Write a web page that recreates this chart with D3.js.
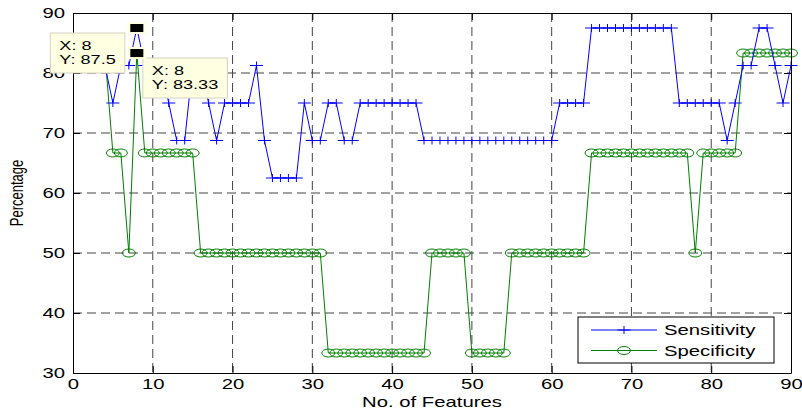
<!DOCTYPE html>
<html>
<head>
<meta charset="utf-8">
<script src="https://cdn.jsdelivr.net/npm/d3@7"></script>
<style>
  body { margin: 0; background: #fff; }
  text { font-family: "Liberation Sans", Arial, sans-serif; fill: #000; }
</style>
</head>
<body>
<div id="chart"></div>
<script>
// No. of features (x)
const features = d3.range(4, 91);

const sensitivity = [
  81.25, 75, 81.25, 81.25, 87.5, 81.25, 81.25, 81.25, 75, 68.75,      // 4-13
  68.75, 81.25, 81.25, 75, 68.75, 75, 75, 75, 75, 81.25,              // 14-23
  68.75, 62.5, 62.5, 62.5, 62.5, 75, 68.75, 68.75, 75, 75,            // 24-33
  68.75, 68.75, 75, 75, 75, 75, 75, 75, 75, 75,                       // 34-43
  68.75, 68.75, 68.75, 68.75, 68.75, 68.75, 68.75, 68.75, 68.75, 68.75, // 44-53
  68.75, 68.75, 68.75, 68.75, 68.75, 68.75, 68.75, 75, 75, 75,        // 54-63
  75, 87.5, 87.5, 87.5, 87.5, 87.5, 87.5, 87.5, 87.5, 87.5,           // 64-73
  87.5, 87.5, 75, 75, 75, 75, 75, 75, 68.75, 75,                      // 74-83
  81.25, 81.25, 87.5, 87.5, 81.25, 75, 81.25                          // 84-90
];

const specificity = [
  83.33, 66.67, 66.67, 50, 83.33, 66.67, 66.67, 66.67, 66.67, 66.67,  // 4-13
  66.67, 66.67, 50, 50, 50, 50, 50, 50, 50, 50,                       // 14-23
  50, 50, 50, 50, 50, 50, 50, 50, 33.33, 33.33,                       // 24-33
  33.33, 33.33, 33.33, 33.33, 33.33, 33.33, 33.33, 33.33, 33.33, 33.33, // 34-43
  33.33, 50, 50, 50, 50, 50, 33.33, 33.33, 33.33, 33.33,              // 44-53
  33.33, 50, 50, 50, 50, 50, 50, 50, 50, 50,                          // 54-63
  50, 66.67, 66.67, 66.67, 66.67, 66.67, 66.67, 66.67, 66.67, 66.67,  // 64-73
  66.67, 66.67, 66.67, 66.67, 50, 66.67, 66.67, 66.67, 66.67, 66.67,  // 74-83
  83.33, 83.33, 83.33, 83.33, 83.33, 83.33, 83.33                     // 84-90
];

const xTicks = [0, 10, 20, 30, 40, 50, 60, 70, 80, 90];
const yTicks = [30, 40, 50, 60, 70, 80, 90];

// data tips shown in the figure
const tips = [
  { x: 8, y: 87.5, lines: ["X: 8", "Y: 87.5"], side: "left" },
  { x: 8, y: 83.33, lines: ["X: 8", "Y: 83.33"], side: "right" }
];

const W = 802, H = 413;
const margin = { top: 13, right: 11, bottom: 40, left: 73 },
      width = W - margin.left - margin.right,
      height = H - margin.top - margin.bottom;
const SX = 1.45; // horizontal stretch of the original picture

const svg = d3.select("#chart")
    .append("svg")
    .attr("width", W)
    .attr("height", H);

const g = svg.append("g")
    .attr("transform", `translate(${margin.left},${margin.top})`);

const x = d3.scaleLinear().domain([0, 90]).range([0, width]);
const y = d3.scaleLinear().domain([30, 90]).range([height, 0]);

// Grid
g.append("g").selectAll("line")
    .data(xTicks.slice(1, -1))
    .enter().append("line")
    .attr("x1", d => x(d)).attr("x2", d => x(d))
    .attr("y1", 0).attr("y2", height)
    .attr("stroke", "#444")
    .attr("stroke-dasharray", "9,5");

g.append("g").selectAll("line")
    .data(yTicks.slice(1, -1))
    .enter().append("line")
    .attr("y1", d => y(d)).attr("y2", d => y(d))
    .attr("x1", 0).attr("x2", width)
    .attr("stroke", "#444")
    .attr("stroke-dasharray", "9,5");

// Series
const sens = features.map((f, i) => ({ x: f, y: sensitivity[i] }));
const spec = features.map((f, i) => ({ x: f, y: specificity[i] }));

const line = d3.line().x(d => x(d.x)).y(d => y(d.y));

g.append("path")
    .datum(spec)
    .attr("fill", "none")
    .attr("stroke", "#008000")
    .attr("stroke-width", 1)
    .attr("d", line);

g.append("g").selectAll("ellipse")
    .data(spec)
    .enter().append("ellipse")
    .attr("cx", d => x(d.x))
    .attr("cy", d => y(d.y))
    .attr("rx", 6.5)
    .attr("ry", 4)
    .attr("fill", "none")
    .attr("stroke", "#008000");

g.append("path")
    .datum(sens)
    .attr("fill", "none")
    .attr("stroke", "#0000ff")
    .attr("stroke-width", 1)
    .attr("d", line);

const plus = "M-6.5,0H6.5M0,-4V4";
g.append("g").selectAll("path")
    .data(sens)
    .enter().append("path")
    .attr("transform", d => `translate(${x(d.x)},${y(d.y)})`)
    .attr("d", plus)
    .attr("stroke", "#0000ff")
    .attr("fill", "none");

// Axes (ticks inward, box around)
const xAxis = g.append("g")
    .attr("transform", `translate(0,${height})`)
    .call(d3.axisBottom(x).tickValues(xTicks).tickSize(-7).tickSizeOuter(0).tickPadding(6));
xAxis.selectAll("text")
    .style("font-size", "14px")
    .attr("transform", `scale(${SX},1)`);

const yAxis = g.append("g")
    .call(d3.axisLeft(y).tickValues(yTicks).tickSize(-7).tickSizeOuter(0).tickPadding(8));
yAxis.selectAll("text")
    .style("font-size", "14px")
    .attr("x", -8 / SX)
    .attr("transform", `scale(${SX},1)`);

g.append("g")
    .call(d3.axisTop(x).tickValues(xTicks).tickSize(-7).tickSizeOuter(0).tickFormat(""));
g.append("g")
    .attr("transform", `translate(${width},0)`)
    .call(d3.axisRight(y).tickValues(yTicks).tickSize(-7).tickSizeOuter(0).tickFormat(""));

g.selectAll(".domain").attr("stroke", "#000");
g.selectAll(".tick line").attr("stroke", "#000");

// Axis labels
svg.append("text")
    .attr("text-anchor", "middle")
    .attr("transform", `translate(${margin.left + width / 2},${H - 6}) scale(${SX},1)`)
    .style("font-size", "14px")
    .text("No. of Features");

svg.append("text")
    .attr("text-anchor", "middle")
    .attr("transform", `translate(22.5,${margin.top + height / 2}) scale(${SX},1) rotate(-90)`)
    .style("font-size", "13px")
    .text("Percentage");

// Legend
const legend = g.append("g")
    .attr("transform", `translate(${width - 213},${height - 56})`);
legend.append("rect")
    .attr("width", 196).attr("height", 46)
    .attr("fill", "#fff").attr("stroke", "#000");

const items = [
  { name: "Sensitivity", color: "#0000ff", marker: "plus" },
  { name: "Specificity", color: "#008000", marker: "circle" }
];
items.forEach((it, i) => {
  const row = legend.append("g").attr("transform", `translate(0,${13 + i * 20.5})`);
  row.append("line")
      .attr("x1", 13).attr("x2", 79)
      .attr("stroke", it.color);
  if (it.marker === "plus") {
    row.append("path").attr("transform", "translate(46,0)")
        .attr("d", plus).attr("stroke", it.color);
  } else {
    row.append("ellipse").attr("cx", 46).attr("rx", 6.5).attr("ry", 4)
        .attr("fill", "none").attr("stroke", it.color);
  }
  row.append("text")
      .attr("transform", `translate(86,5) scale(${SX},1)`)
      .style("font-size", "14px")
      .text(it.name);
});

// Data tips
tips.forEach(t => {
  const px = x(t.x), py = y(t.y);
  const tip = g.append("g");
  const box = tip.append("rect")
      .attr("fill", "#ffffe1")
      .attr("stroke", "#d4d4c4");
  const texts = t.lines.map((s, i) => tip.append("text")
      .style("font-size", "12.5px")
      .text(s));
  const tw = d3.max(texts, tx => tx.node().getComputedTextLength()) * SX;
  const bw = tw + 18, bh = 40;
  const left = t.side === "left" ? px - 12 - bw : px + 6;
  const top = py + 5;
  box.attr("x", left).attr("y", top).attr("width", bw).attr("height", bh);
  texts.forEach((tx, i) => tx.attr("transform",
      `translate(${left + 9},${top + 16.5 + i * 14.5}) scale(${SX},1)`));

  g.append("rect")
      .attr("x", px - 9.5).attr("y", py - 6)
      .attr("width", 19).attr("height", 12)
      .attr("fill", "#ffffe1");
  g.append("rect")
      .attr("x", px - 6.5).attr("y", py - 4)
      .attr("width", 13).attr("height", 8)
      .attr("fill", "#000");
});
</script>
</body>
</html>
